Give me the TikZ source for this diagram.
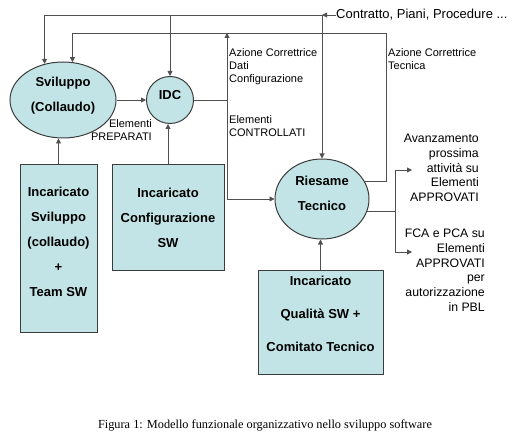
\documentclass[tikz,border=0pt]{standalone}
\usepackage{fontspec}
\setmainfont{Liberation Serif}
\setsansfont{Liberation Sans}
\usetikzlibrary{shapes.geometric,arrows.meta,positioning}
\definecolor{pale}{RGB}{194,228,230}
\definecolor{linegrey}{RGB}{80,80,80}
\definecolor{edgegrey}{RGB}{60,60,60}

\begin{document}
\begin{tikzpicture}[x=1pt,y=-1pt,
  line/.style={draw=linegrey, line width=0.9pt},
  arr/.style={line, -{Triangle[length=5pt,width=5pt]}},
  blob/.style={ellipse, draw=edgegrey, line width=1pt, fill=pale, inner sep=0pt, align=center,
    font=\sffamily\bfseries\fontsize{13}{25}\selectfont},
  staff/.style={rectangle, draw=edgegrey, line width=1pt, fill=pale, inner sep=0pt, align=center,
    font=\sffamily\bfseries\fontsize{13}{25}\selectfont},
  tag/.style={inner sep=0pt, font=\sffamily\fontsize{11}{13}\selectfont},
  note/.style={inner sep=0pt, align=right, font=\sffamily\fontsize{12.3}{14.7}\selectfont}]
\useasboundingbox (0,0) rectangle (521,438);

% Activities
\node[blob, minimum width=106pt, minimum height=76pt, text depth=12pt] (svil) at (63,100) {Sviluppo\\(Collaudo)};
\node[blob, circle, minimum size=47pt, text depth=10pt] (idc) at (170,100) {IDC};
\node[blob, minimum width=94pt, minimum height=80pt, text depth=12pt] (ries) at (322,199) {Riesame\\Tecnico};

% Roles
\node[staff, minimum width=77pt, minimum height=167pt, text depth=14pt] (dev) at (58.5,248.5)
  {Incaricato\\Sviluppo\\(collaudo)\\+\\Team SW};
\node[staff, minimum width=112pt, minimum height=105pt] (cfg) at (168,217.5)
  {Incaricato\\Configurazione\\SW};
\node[staff, minimum width=125pt, minimum height=104pt, text depth=17pt,
  font=\sffamily\bfseries\fontsize{13}{33}\selectfont] (qa) at (320.5,322)
  {Incaricato\\Qualità SW +\\Comitato Tecnico};

% Inputs from above
\coordinate (feed) at (322,15);
\node[note, anchor=west, font=\sffamily\fontsize{13}{15}\selectfont] (contr) at (336,15) {Contratto, Piani, Procedure ...};
\draw[arr] (contr.west) -- (feed);
\draw[arr] (feed) -| (svil.117);
\draw[arr] (idc.north |- feed) -- (idc.north);
\draw[arr] (feed) -- (ries.north);

% Flow between activities
\coordinate (split) at (227,100);
\coordinate (tech) at (386,33);
\draw[arr] (svil.east) -- (idc.west);
\draw[line] (idc.east) -- (split);
\draw[arr] (split) -- (split |- tech);
\draw[arr] (split) |- (ries.west);
\draw[arr] (ries.22) -| (tech) -| (svil.76);

% Roles to activities
\draw[arr] (dev.north) -- (dev.north |- svil.south);
\draw[arr] (cfg.north) -- (cfg.north |- idc.south);
\draw[arr] (qa.north) -- (qa.north |- ries.south);

% Outputs
\coordinate (fork) at (395,211);
\coordinate (next) at (412,170);
\coordinate (pbl) at (412,252);
\draw[line] (ries.-15 |- fork) -- (fork);
\draw[arr] (fork) |- (next);
\draw[arr] (fork) |- (pbl);

% Labels
\node[tag, anchor=north east, align=right] (prep) at (152,119) {Elementi\\PREPARATI};
\node[tag, anchor=north west, align=left] (acdati) at (229,48) {Azione Correttrice\\Dati\\Configurazione};
\node[tag, anchor=north west, align=left] (contrl) at (229,115) {Elementi\\CONTROLLATI};
\node[tag, anchor=north west, align=left] (actec) at (388,48) {Azione Correttrice\\Tecnica};
\node[note, anchor=north east] (avanz) at (479,134) {Avanzamento\\prossima\\attività su\\Elementi\\APPROVATI};
\node[note, anchor=north east] (fca) at (485,229) {FCA e PCA su\\Elementi\\APPROVATI\\per\\autorizzazione\\in PBL};

% Caption
\node[font=\rmfamily\fontsize{12.3}{14}\selectfont] (caption) at (265,425)
  {Figura 1: Modello funzionale organizzativo nello sviluppo software};
\end{tikzpicture}
\end{document}
